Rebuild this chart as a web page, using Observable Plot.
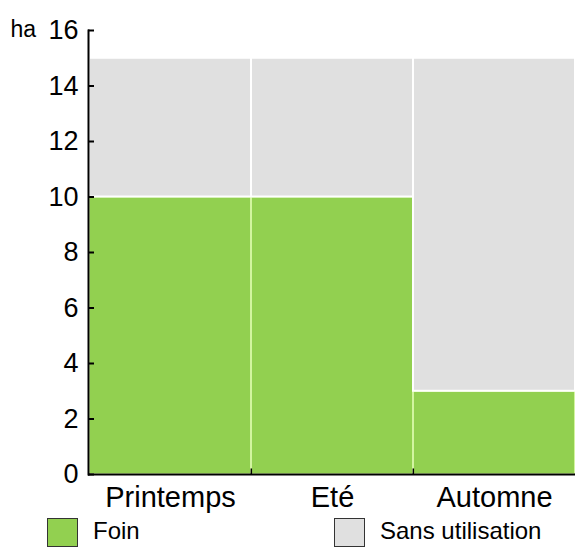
<!DOCTYPE html>
<html>
<head>
<meta charset="utf-8">
<script src="https://cdn.jsdelivr.net/npm/d3@7"></script>
<script src="https://cdn.jsdelivr.net/npm/@observablehq/plot@0.6"></script>
<style>
  body { margin: 0; background: #fff; font-family: "Liberation Sans", Arial, sans-serif; }
  #legend { position: relative; width: 575px; height: 35px; font-size: 24px; }
  .sw { position: absolute; top: 6px; border: 1px solid #333; box-sizing: border-box; width: 31px; height: 29px; }
  .lt { position: absolute; top: 9px; line-height: 20px; color: #000; white-space: nowrap; }
</style>
</head>
<body>
<div id="chart"></div>
<div id="legend">
  <div class="sw" style="left:47px;background:#92d050"></div><div class="lt" style="left:93px">Foin</div>
  <div class="sw" style="left:334px;background:#e0e0e0"></div><div class="lt" style="left:380px">Sans utilisation</div>
</div>
<script>
const seasons = ["Printemps", "Eté", "Automne"];
const foin = [10, 10, 3];
const sansUtilisation = [5, 5, 12];
const series = ["Foin", "Sans utilisation"];
const colors = ["#92d050", "#e0e0e0"];
const edgeColors = ["#d2f5a0", "#ffffff"];
const yTicks = [0, 2, 4, 6, 8, 10, 12, 14, 16];

const data = [];
seasons.forEach((s, i) => {
  data.push({season: s, serie: series[0], value: foin[i], edge: edgeColors[0]});
  data.push({season: s, serie: series[1], value: sansUtilisation[i], edge: edgeColors[1]});
});

const W = 575, H = 512, ML = 88, MR = 0, MT = 30, MB = 38;
const bw = (W - ML - MR) / seasons.length;

const chart = Plot.plot({
  width: W, height: H,
  marginLeft: ML, marginRight: MR, marginTop: MT, marginBottom: MB,
  style: {fontFamily: "Liberation Sans, Arial, sans-serif", background: "#fff", color: "#000", fontSize: "27px", overflow: "visible"},
  x: {domain: seasons, padding: 0, label: null},
  y: {domain: [0, 16], label: null},
  color: {domain: series, range: colors},
  marks: [
    Plot.barY(data, Plot.stackY({x: "season", y: "value", fill: "serie", order: series, stroke: "edge", strokeWidth: 2})),
    Plot.axisY({ticks: yTicks, tickSize: -6, tickPadding: 16, fontSize: 27, label: null, stroke: "#000", strokeWidth: 2}),
    Plot.axisX({tickSize: 0, tickPadding: 12, fontSize: 29, label: null}),
    Plot.ruleX(seasons.slice(1), {x: d => d, y1: 0, y2: 0.2, dx: -bw / 2, stroke: "#000", strokeWidth: 1.5}),
    Plot.frame({anchor: "left", stroke: "#000", strokeWidth: 2}),
    Plot.ruleY([0], {stroke: "#000", strokeWidth: 2}),
    Plot.text(["ha"], {frameAnchor: "top-left", dx: -78, dy: -10, textAnchor: "start", fontSize: 23, fill: "#000"})
  ]
});
document.getElementById("chart").appendChild(chart);
</script>
</body>
</html>
